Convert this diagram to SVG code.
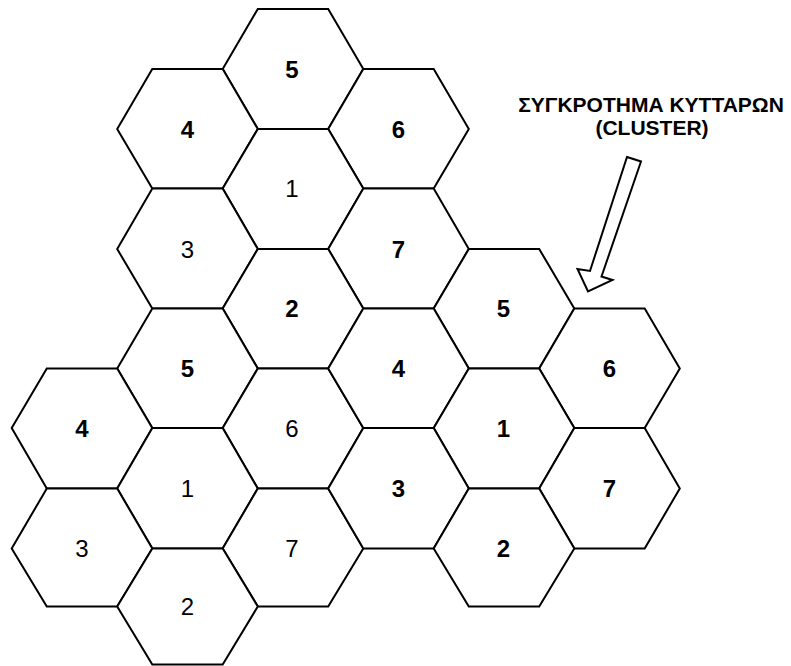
<svg xmlns="http://www.w3.org/2000/svg" width="791" height="666" viewBox="0 0 791 666">
<style>
.hex{fill:#fff;stroke:#000;stroke-width:2;stroke-linejoin:miter}
.lb{font-family:"Liberation Sans",Arial,sans-serif;font-size:24px;font-weight:bold;text-anchor:middle;fill:#000}
.lr{font-weight:normal}
.ttl{font-family:"Liberation Sans",Arial,sans-serif;font-size:21px;font-weight:bold;fill:#000;text-anchor:middle}
.arr{fill:#fff;stroke:#000;stroke-width:2;stroke-linejoin:miter}
</style>
<rect width="791" height="666" fill="#fff"/>
<g id="cluster-top">
<g id="t5"><polygon class="hex" points="222.7,69 257.8,9 328.2,9 363.3,69 328.2,129 257.8,129"/><text class="lb" x="292" y="77.5">5</text></g>
<g id="t4"><polygon class="hex" points="117.2,129 152.3,69 222.7,69 257.8,129 222.7,188.5 152.3,188.5"/><text class="lb" x="187.5" y="137.5">4</text></g>
<g id="t6"><polygon class="hex" points="328.2,129 363.3,69 433.7,69 468.8,129 433.7,188.5 363.3,188.5"/><text class="lb" x="398.5" y="137.5">6</text></g>
<g id="t1"><polygon class="hex" points="222.7,188.5 257.8,129 328.2,129 363.3,188.5 328.2,249 257.8,249"/><text class="lb lr" x="292" y="197">1</text></g>
<g id="t3"><polygon class="hex" points="117.2,249 152.3,188.5 222.7,188.5 257.8,249 222.7,308.5 152.3,308.5"/><text class="lb lr" x="187.5" y="257.5">3</text></g>
<g id="t7"><polygon class="hex" points="328.2,249 363.3,188.5 433.7,188.5 468.8,249 433.7,308.5 363.3,308.5"/><text class="lb" x="398.5" y="257.5">7</text></g>
<g id="t2"><polygon class="hex" points="222.7,308.5 257.8,249 328.2,249 363.3,308.5 328.2,368.5 257.8,368.5"/><text class="lb" x="292" y="317">2</text></g>
</g>
<g id="cluster-left">
<g id="b5"><polygon class="hex" points="117.2,368.5 152.3,308.5 222.7,308.5 257.8,368.5 222.7,428 152.3,428"/><text class="lb" x="187.5" y="377">5</text></g>
<g id="b4"><polygon class="hex" points="11.7,428 46.8,368.5 117.2,368.5 152.3,428 117.2,488.5 46.8,488.5"/><text class="lb" x="82" y="436.5">4</text></g>
<g id="b6"><polygon class="hex" points="222.7,428 257.8,368.5 328.2,368.5 363.3,428 328.2,488.5 257.8,488.5"/><text class="lb lr" x="292" y="436.5">6</text></g>
<g id="b1"><polygon class="hex" points="117.2,488.5 152.3,428 222.7,428 257.8,488.5 222.7,548.5 152.3,548.5"/><text class="lb lr" x="187.5" y="497">1</text></g>
<g id="b3"><polygon class="hex" points="11.7,548.5 46.8,488.5 117.2,488.5 152.3,548.5 117.2,606.5 46.8,606.5"/><text class="lb lr" x="82" y="557">3</text></g>
<g id="b7"><polygon class="hex" points="222.7,548.5 257.8,488.5 328.2,488.5 363.3,548.5 328.2,606.5 257.8,606.5"/><text class="lb lr" x="292" y="557">7</text></g>
<g id="b2"><polygon class="hex" points="117.2,606.5 152.3,548.5 222.7,548.5 257.8,606.5 222.7,664.5 152.3,664.5"/><text class="lb lr" x="187.5" y="615">2</text></g>
</g>
<g id="cluster-right">
<g id="r5"><polygon class="hex" points="433.7,308.5 468.8,249 539.2,249 574.3,308.5 539.2,368.5 468.8,368.5"/><text class="lb" x="503.5" y="317">5</text></g>
<g id="r4"><polygon class="hex" points="328.2,368.5 363.3,308.5 433.7,308.5 468.8,368.5 433.7,428 363.3,428"/><text class="lb" x="398.5" y="377">4</text></g>
<g id="r6"><polygon class="hex" points="539.2,368.5 574.3,308.5 644.7,308.5 679.8,368.5 644.7,428 574.3,428"/><text class="lb" x="609.5" y="377">6</text></g>
<g id="r1"><polygon class="hex" points="433.7,428 468.8,368.5 539.2,368.5 574.3,428 539.2,488.5 468.8,488.5"/><text class="lb" x="503.5" y="436.5">1</text></g>
<g id="r3"><polygon class="hex" points="328.2,488.5 363.3,428 433.7,428 468.8,488.5 433.7,548.5 363.3,548.5"/><text class="lb" x="398.5" y="497">3</text></g>
<g id="r7"><polygon class="hex" points="539.2,488.5 574.3,428 644.7,428 679.8,488.5 644.7,548.5 574.3,548.5"/><text class="lb" x="609.5" y="497">7</text></g>
<g id="r2"><polygon class="hex" points="433.7,548.5 468.8,488.5 539.2,488.5 574.3,548.5 539.2,606.5 468.8,606.5"/><text class="lb" x="503.5" y="557">2</text></g>
</g>
<g id="title">
<text class="ttl" x="651" y="112">ΣΥΓΚΡΟΤΗΜΑ ΚΥΤΤΑΡΩΝ</text>
<text class="ttl" x="652" y="135">(CLUSTER)</text>
</g>
<g id="connectors">
<polygon class="arr" points="627,157 641,161.5 601.5,276.5 612.5,280 588,291.5 577.5,269 590,271"/>
</g>
</svg>
